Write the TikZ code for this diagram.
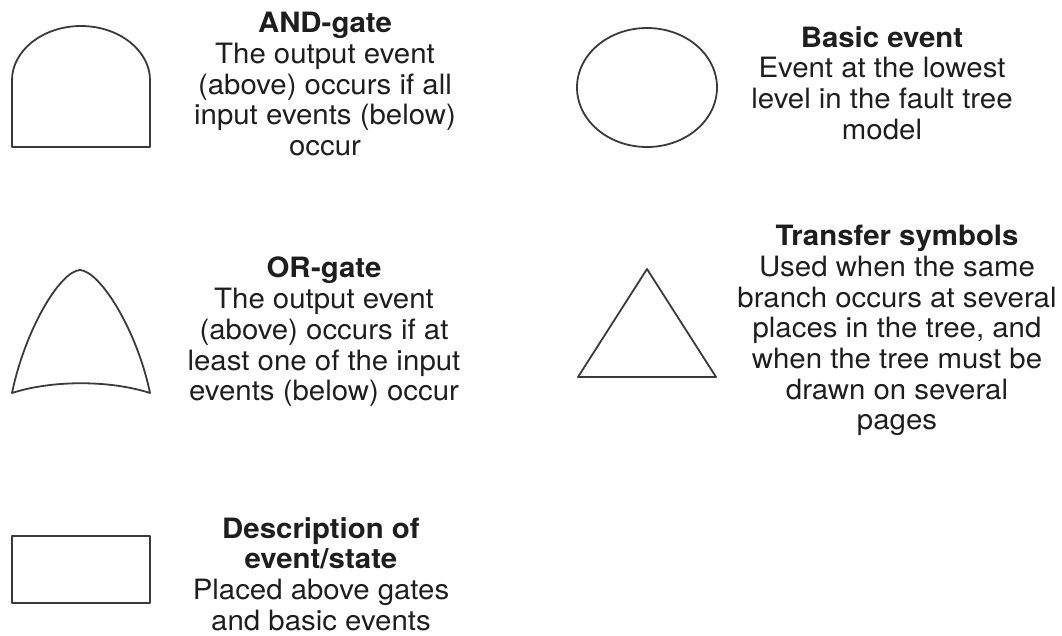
\documentclass[tikz,border=0pt]{standalone}
\usepackage{fontspec}
\setmainfont{TeX Gyre Heros}[FakeStretch=1.05]
\begin{document}
\begin{tikzpicture}[x=1pt,y=-1pt,
  symbol/.style={draw=symline,line width=1.8pt,line join=round},
  legend/.style={align=center,inner sep=0pt,text=legendtext,anchor=north,
    font=\fontsize{28}{30.7}\selectfont},
  ]
\definecolor{symline}{HTML}{3A3A3A}
\definecolor{legendtext}{HTML}{1E1E1E}
\useasboundingbox (0,0) rectangle (1062,635);

% AND-gate: flat base, straight sides, half-ellipse top
\draw[symbol] (12,147) -- (12,80)
  .. controls (12,50.7) and (42.9,26) .. (81,26)
  .. controls (119.1,26) and (150,50.7) .. (150,80)
  -- (150,147) -- cycle;

% OR-gate: curved sides meeting at the apex, concave base
\draw[symbol] (12,393) .. controls (25,330) and (60,271) .. (80,270)
  .. controls (100,271) and (137,330) .. (150,393)
  .. controls (110,380) and (52,380) .. (12,393) -- cycle;

% Event/state description box
\draw[symbol] (12,536) rectangle (150,603);

% Basic event
\draw[symbol] (647,87.5) ellipse [x radius=70pt, y radius=59.5pt];

% Transfer symbol
\draw[symbol] (647,269) -- (716,377) -- (578,377) -- cycle;

\node[legend] (andtxt) at (325,12)
  {\textbf{AND-gate}\\The output event\\(above) occurs if all\\input events (below)\\occur};
\node[legend] (ortxt) at (324,257)
  {\textbf{OR-gate}\\The output event\\(above) occurs if at\\least one of the input\\events (below) occur};
\node[legend] (desctxt) at (321,517)
  {\textbf{Description of}\\\textbf{event/state}\\Placed above gates\\and basic events};
\node[legend] (basictxt) at (882,26)
  {\textbf{Basic event}\\Event at the lowest\\level in the fault tree\\model};
\node[legend] (transtxt) at (897,225)
  {\textbf{Transfer symbols}\\Used when the same\\branch occurs at several\\places in the tree, and\\when the tree must be\\drawn on several\\pages};
\end{tikzpicture}
\end{document}
